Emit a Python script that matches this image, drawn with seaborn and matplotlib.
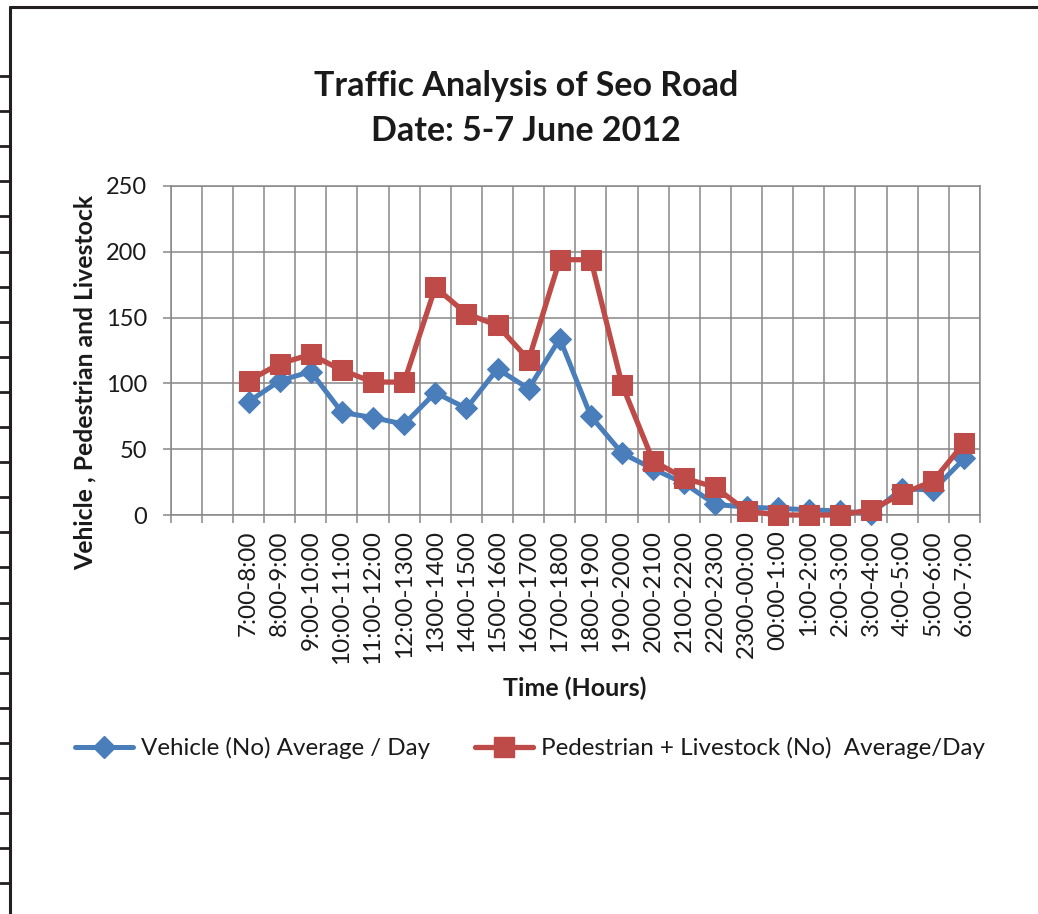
import numpy as np
import pandas as pd
import matplotlib
matplotlib.use("Agg")
import matplotlib.pyplot as plt
from matplotlib.lines import Line2D
import seaborn as sns

# ---------------- data ----------------
time_labels = ["7:00-8:00", "8:00-9:00", "9:00-10:00", "10:00-11:00", "11:00-12:00",
               "12:00-1300", "1300-1400", "1400-1500", "1500-1600", "1600-1700",
               "1700-1800", "1800-1900", "1900-2000", "2000-2100", "2100-2200",
               "2200-2300", "2300-00:00", "00:00-1:00", "1:00-2:00", "2:00-3:00",
               "3:00-4:00", "4:00-5:00", "5:00-6:00", "6:00-7:00"]
vehicle = [86, 102, 109, 78, 74, 69, 93, 81, 111, 96, 134, 75,
           47, 35, 24, 8, 6, 5, 4, 3, 1, 20, 19, 43]
pedestrian = [102, 115, 122, 110, 101, 101, 173, 153, 144, 118, 194, 194,
              99, 41, 28, 21, 3, 0, 0, 0, 4, 16, 26, 55]
series_names = ["Vehicle (No) Average / Day",
                "Pedestrian + Livestock (No)  Average/Day"]
y_ticks = [0, 50, 100, 150, 200, 250]
n_lead_empty = 2  # empty category slots before the first label

# ---------------- style ----------------
sns.set_theme(style="white")
plt.rcParams['font.family'] = ['Lato', 'DejaVu Sans']
BLUE = "#4A7EBB"
RED = "#BE4B48"
GRID = "#878787"
TXT = "#1a1a1a"

W, H = 1038, 914
fig = plt.figure(figsize=(W / 100, H / 100), dpi=100)
ax = fig.add_axes([170.7 / W, 1 - 515 / H, (980 - 170.7) / W, (515 - 186) / H])

n_cat = n_lead_empty + len(time_labels)
pos = np.arange(len(time_labels)) + n_lead_empty + 0.5
df = pd.DataFrame({"pos": pos, "veh": vehicle, "ped": pedestrian})

sns.lineplot(data=df, x="pos", y="veh", ax=ax, color=BLUE, lw=3.6,
             marker="D", markersize=11, markeredgecolor=BLUE, clip_on=False,
             label=series_names[0], zorder=3, legend=False)
sns.lineplot(data=df, x="pos", y="ped", ax=ax, color=RED, lw=3.8,
             marker="s", markersize=14, markeredgecolor=RED, clip_on=False,
             label=series_names[1], zorder=4, legend=False)

ax.set_xlim(0, n_cat)
ax.set_ylim(0, 250)
ax.set_xticks(np.arange(0, n_cat + 1))
ax.set_xticklabels([])
ax.set_xticks(pos, minor=True)
ax.set_xticklabels(time_labels, minor=True, rotation=90, fontsize=17.5,
                   color=TXT)
ax.tick_params(axis="x", which="major", direction="out", length=6,
               width=1.1, color=GRID, bottom=True)
ax.tick_params(axis="x", which="minor", length=0, pad=11)
ax.set_yticks(y_ticks)
ax.set_yticklabels([str(v) for v in y_ticks], fontsize=17, color=TXT)
ax.tick_params(axis="y", direction="out", length=6, width=1.1, color=GRID,
               left=True, pad=11)
ax.grid(True, which="major", color=GRID, lw=1.1)
ax.set_axisbelow(True)
for s in ax.spines.values():
    s.set_color(GRID)
    s.set_linewidth(1.1)
ax.set_xlabel("")
ax.set_ylabel("")

# titles / axis labels
fig.text(526 / W, 1 - 86 / H, "Traffic Analysis of Seo Road", ha="center",
         va="center", fontsize=24.5, fontweight="bold", color=TXT)
fig.text(526 / W, 1 - 131 / H, "Date: 5-7 June 2012", ha="center",
         va="center", fontsize=24.5, fontweight="bold", color=TXT)
fig.text(575 / W, 1 - 688 / H, "Time (Hours)", ha="center", va="center",
         fontsize=18, fontweight="bold", color=TXT)
fig.text(85 / W, 1 - 382 / H, "Vehicle , Pedestrian and Livestock",
         ha="center", va="center", rotation=90, fontsize=17.8,
         fontweight="bold", color=TXT)

# legend
handles = [Line2D([], [], color=BLUE, lw=3.6, marker="D", markersize=11),
           Line2D([], [], color=RED, lw=3.8, marker="s", markersize=14)]
fig.legend(handles, series_names, loc="center", bbox_to_anchor=(530 / W, 1 - 748 / H),
           ncol=2, frameon=False, fontsize=17.4, handlelength=2.4,
           handletextpad=0.33, columnspacing=1.85, labelcolor=TXT)

# page border decoration
bk = "#231f20"
fig.add_artist(Line2D([10 / W, 10 / W], [1 - 7 / H, 0], transform=fig.transFigure,
                      color=bk, lw=2.2))
fig.add_artist(Line2D([10 / W, 1], [1 - 7 / H, 1 - 7 / H], transform=fig.transFigure,
                      color=bk, lw=2.2))
for py in np.arange(76, 900, 35.1):
    fig.add_artist(Line2D([0, 10 / W], [1 - py / H, 1 - py / H],
                          transform=fig.transFigure, color=bk, lw=2.0))

fig.savefig("out.png", dpi=100)
